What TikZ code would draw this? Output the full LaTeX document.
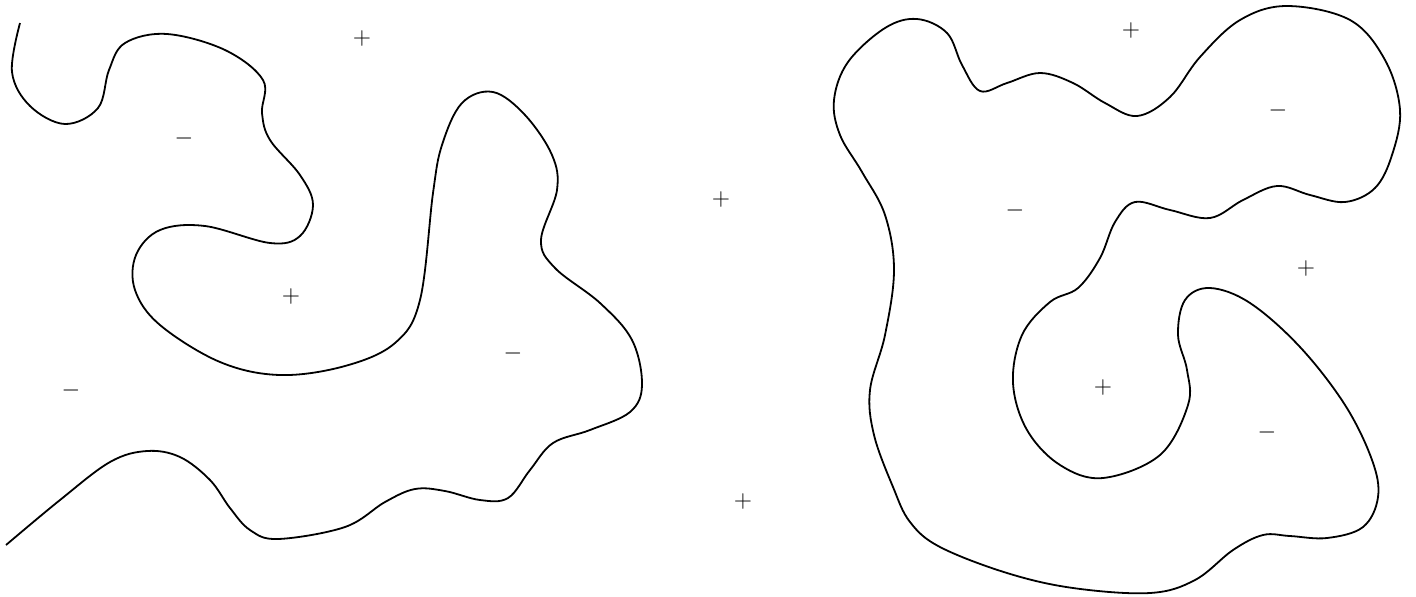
\documentclass[tikz,border=0pt]{standalone}
\begin{document}
\begin{tikzpicture}[x=0.5pt,y=-0.5pt,
  curve/.style={line width=0.9pt,black},
  sign/.style={inner sep=0pt,font=\fontsize{13}{15}\selectfont}]
\useasboundingbox (0,0) rectangle (1416,596);
% left open curve
\draw[curve] plot[smooth,tension=0.6] coordinates {
(20,23) (12,72) (30,106) (65,124) (98,108) (109,70) (125,43) (167,34) (225,50)
(263,80) (262,113) (270,140) (300,175) (313,205) (300,236) (270,243) (205,226)
(160,230) (136,255) (135,290) (160,325) (220,362) (280,375) (345,366) (395,343)
(420,300) (433,193) (442,145) (462,103) (493,92) (525,115) (552,155) (557,190)
(541,240) (555,268) (600,303) (632,340) (642,385) (630,412) (590,430) (553,443)
(530,470) (508,498) (480,500) (445,491) (415,489) (385,502) (345,527) (278,539)
(250,530) (230,508) (210,480) (180,457) (147,451) (110,462) (60,500) (6,545)};
% right closed curve
\draw[curve] plot[smooth cycle,tension=0.6] coordinates {
(834,100) (848,62) (885,28) (917,19) (947,33) (962,65) (980,91) (1007,83)
(1040,73) (1073,83) (1105,103) (1137,116) (1170,97) (1200,57) (1240,20) (1287,6)
(1350,20) (1385,60) (1400,110) (1392,155) (1375,188) (1345,202) (1310,195)
(1277,186) (1243,200) (1210,218) (1170,210) (1135,202) (1115,222) (1100,258)
(1078,288) (1050,302) (1022,335) (1013,383) (1027,430) (1060,465) (1103,478)
(1160,455) (1188,405) (1187,370) (1178,335) (1185,300) (1210,288) (1250,303)
(1300,347) (1345,405) (1372,460) (1378,497) (1363,527) (1327,538) (1290,536)
(1263,535) (1233,550) (1195,580) (1150,593) (1073,588) (1007,573) (940,547)
(910,522) (893,487) (874,435) (870,390) (885,335) (894,270) (885,215) (862,172)
(840,135)};
% signs
\node[sign] (p1) at (362,38) {$+$};
\node[sign] (p2) at (291,296) {$+$};
\node[sign] (p3) at (721,199) {$+$};
\node[sign] (p4) at (743,501) {$+$};
\node[sign] (p5) at (1131,30) {$+$};
\node[sign] (p6) at (1306,268) {$+$};
\node[sign] (p7) at (1103,387) {$+$};
\node[sign] (m1) at (184,138) {$-$};
\node[sign] (m2) at (71,390) {$-$};
\node[sign] (m3) at (513,353) {$-$};
\node[sign] (m4) at (1015,210) {$-$};
\node[sign] (m5) at (1278,110) {$-$};
\node[sign] (m6) at (1267,432) {$-$};
\end{tikzpicture}
\end{document}
